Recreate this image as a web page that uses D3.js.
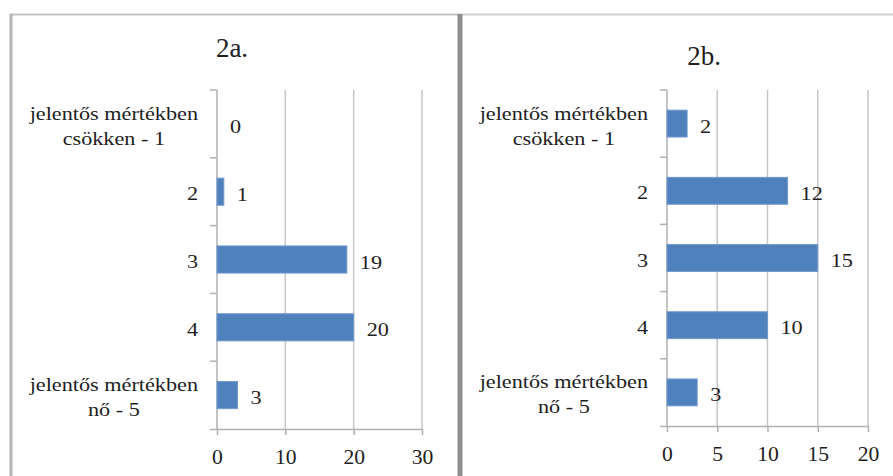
<!DOCTYPE html>
<html>
<head>
<meta charset="utf-8">
<script src="https://cdn.jsdelivr.net/npm/d3@7"></script>
<style>
  html, body { margin: 0; padding: 0; background: #fff; }
  svg { display: block; }
  svg text { font-family: "Liberation Serif", "DejaVu Serif", serif !important; fill: #1e1e1e; }
</style>
</head>
<body>
<svg id="chart" width="893" height="476"></svg>
<script>
// ---- data ----
const categories = ["jelentős mértékben\ncsökken - 1", "2", "3", "4", "jelentős mértékben\nnő - 5"];
const values2a = [0, 1, 19, 20, 3];
const values2b = [2, 12, 15, 10, 3];
const ticks2a = [0, 10, 20, 30];
const ticks2b = [0, 5, 10, 15, 20];
const titles = ["2a.", "2b."];

// ---- layout ----
const SERIF = "'Liberation Serif', 'DejaVu Serif', serif";
const SX = 1.17;          // horizontal stretch of text
const FS = 19;            // label font size
const panels = [
  { title: titles[0], values: values2a, ticks: ticks2a, xr: [217, 422], yr: [90, 429], titleX: 232, titleY: 57 },
  { title: titles[1], values: values2b, ticks: ticks2b, xr: [667, 868], yr: [90, 426], titleX: 704, titleY: 65 }
];

const svg = d3.select("#chart");

// frames
svg.append("line").attr("x1", 10).attr("x2", 458).attr("y1", 14.5).attr("y2", 14.5)
  .attr("stroke", "#c4c4c4").attr("stroke-width", 2);
svg.append("line").attr("x1", 11).attr("x2", 11).attr("y1", 14).attr("y2", 476)
  .attr("stroke", "#b4b4b4").attr("stroke-width", 3);
svg.append("line").attr("x1", 458).attr("x2", 893).attr("y1", 14.5).attr("y2", 14.5)
  .attr("stroke", "#cfcfcf").attr("stroke-width", 2);
svg.append("line").attr("x1", 460).attr("x2", 460).attr("y1", 14).attr("y2", 476)
  .attr("stroke", "#8e8e8e").attr("stroke-width", 5);

function stretchedText(g, x, y, str, anchor, size, sx) {
  return g.append("text")
    .attr("transform", `translate(${x},${y}) scale(${sx},1)`)
    .attr("text-anchor", anchor)
    .style("font-family", SERIF)
    .style("font-size", size + "px")
    .text(str);
}

panels.forEach(p => {
  const g = svg.append("g");
  const max = p.ticks[p.ticks.length - 1];
  const x = d3.scaleLinear().domain([0, max]).range(p.xr);
  const y = d3.scaleBand().domain(categories).range(p.yr).paddingInner(0.6).paddingOuter(0.3);
  const step = y.step();
  const gap = (step - y.bandwidth()) / 2;

  // gridlines
  g.selectAll(".grid").data(p.ticks.slice(1)).join("line")
    .attr("x1", d => x(d)).attr("x2", d => x(d))
    .attr("y1", p.yr[0]).attr("y2", p.yr[1])
    .attr("stroke", "#c6c6c6").attr("stroke-width", 1.5);

  // x axis
  const xAxis = g.append("g").attr("transform", `translate(0,${p.yr[1]})`)
    .call(d3.axisBottom(x).tickValues(p.ticks).tickSize(6).tickSizeOuter(0));
  xAxis.attr("font-family", null).attr("font-size", null);
  xAxis.select(".domain").attr("stroke", "#b0b0b0").attr("stroke-width", 1.5)
    .attr("d", `M${p.xr[0] - 7},0.5H${p.xr[1]}`);
  xAxis.selectAll(".tick line").attr("stroke", "#b0b0b0").attr("stroke-width", 1.5);
  xAxis.selectAll(".tick text")
    .style("font-family", SERIF)
    .style("font-size", "20px")
    .attr("fill", "#1e1e1e")
    .attr("y", 0).attr("dy", 0)
    .attr("transform", "translate(0,35) scale(1.08,1)");

  // y axis line
  g.append("line").attr("x1", p.xr[0]).attr("x2", p.xr[0])
    .attr("y1", p.yr[0]).attr("y2", p.yr[1])
    .attr("stroke", "#b0b0b0").attr("stroke-width", 1.5);
  // category boundary ticks
  const bounds = categories.map(c => y(c) - gap);
  g.selectAll(".ctick").data(bounds).join("line")
    .attr("x1", p.xr[0] - 7).attr("x2", p.xr[0])
    .attr("y1", d => d).attr("y2", d => d)
    .attr("stroke", "#b0b0b0").attr("stroke-width", 1.5);

  // bars
  g.selectAll(".bar").data(p.values).join("rect")
    .attr("x", x(0))
    .attr("y", (d, i) => y(categories[i]))
    .attr("width", d => x(d) - x(0))
    .attr("height", y.bandwidth())
    .attr("fill", "#4f81bd")
    .attr("stroke", d => d > 0 ? "#7199cc" : "none")
    .attr("stroke-width", 1);

  // data labels
  p.values.forEach((v, i) => {
    const cy = y(categories[i]) + y.bandwidth() / 2;
    stretchedText(g, x(v) + 13, cy + 9, String(v), "start", FS, SX);
  });

  // category labels
  const rightEdge = p.xr[0] - 19;
  categories.forEach((c, i) => {
    const cy = y(categories[i]) + y.bandwidth() / 2;
    const lines = c.split("\n");
    if (lines.length === 1) {
      stretchedText(g, rightEdge, cy + 8.5, lines[0], "end", FS, SX);
    } else {
      const tmp = lines.map(l => stretchedText(g, 0, 0, l, "middle", FS, SX));
      const w = d3.max(tmp, t => t.node().getComputedTextLength()) * SX;
      const cx = rightEdge - w / 2;
      tmp.forEach((t, k) => {
        t.attr("transform", `translate(${cx},${cy - 4 + k * 25}) scale(${SX},1)`);
      });
    }
  });

  // title
  g.append("text").attr("x", p.titleX).attr("y", p.titleY)
    .attr("text-anchor", "middle")
    .style("font-family", SERIF).style("font-size", "27px")
    .text(p.title);
});
</script>
</body>
</html>
